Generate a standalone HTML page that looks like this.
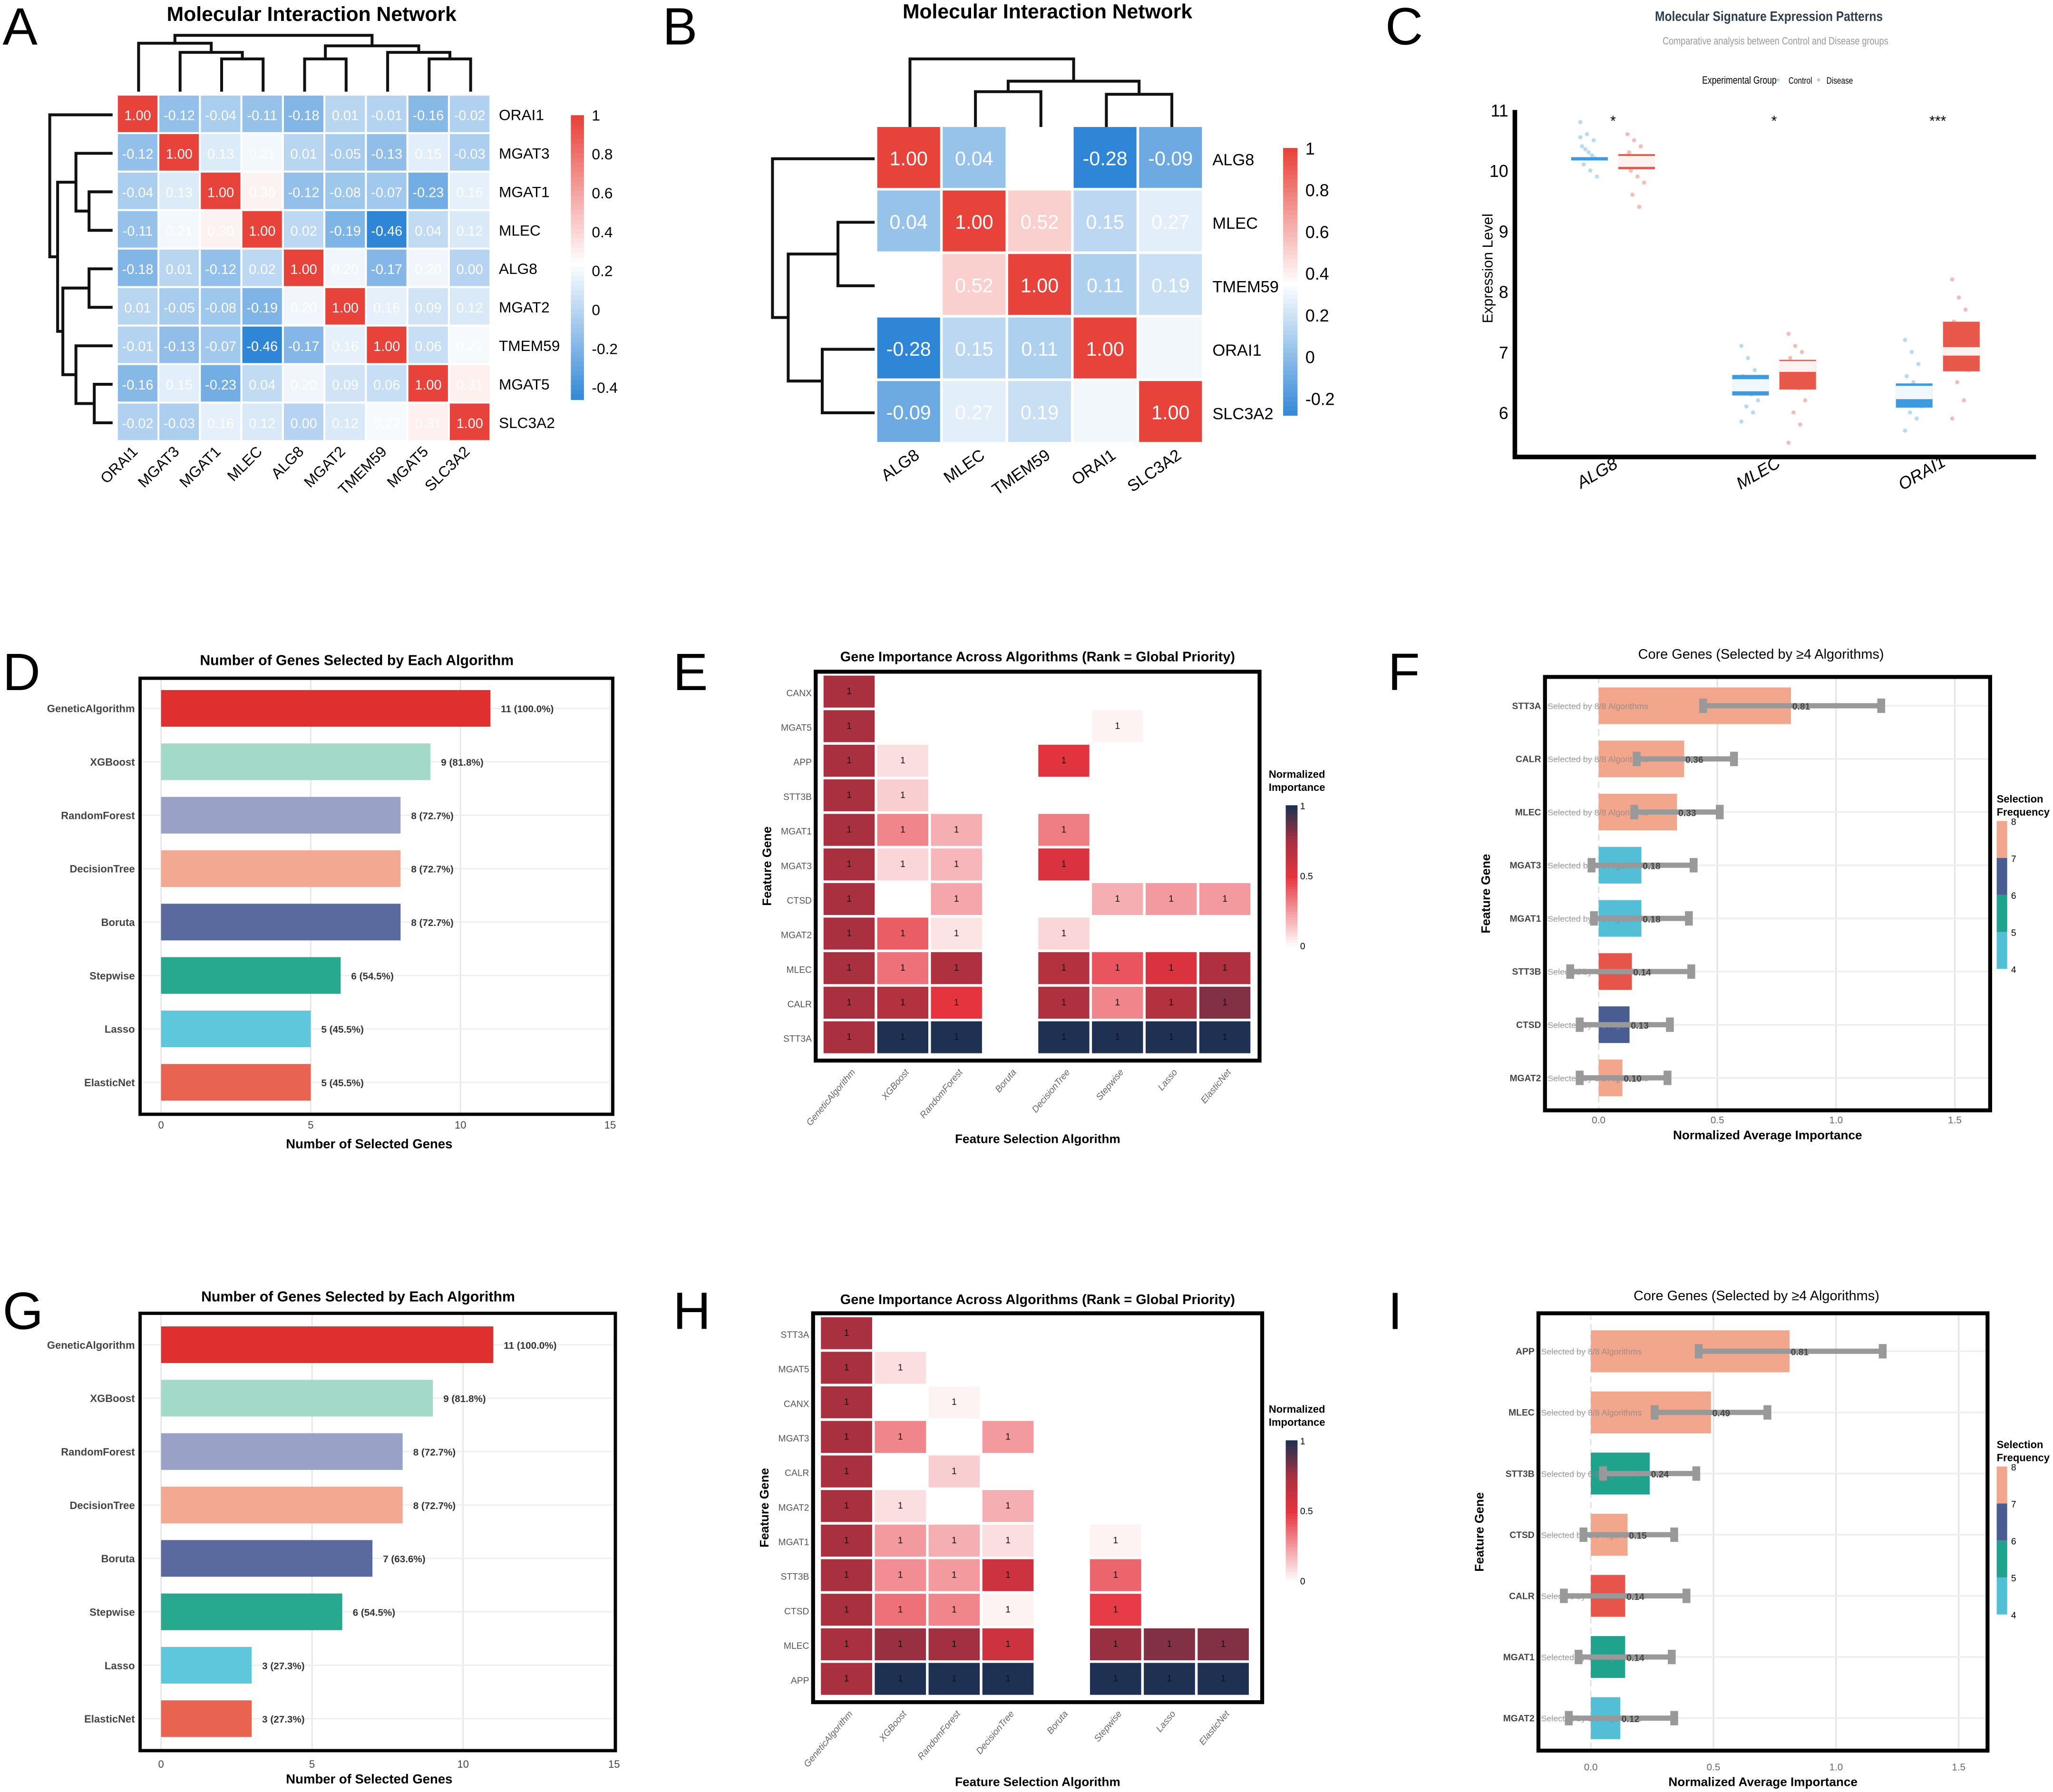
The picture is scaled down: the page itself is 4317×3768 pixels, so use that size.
<!DOCTYPE html>
<html><head><meta charset="utf-8"><style>
html,body{margin:0;padding:0;background:#fff;}
svg{display:block;font-family:"Liberation Sans",sans-serif;}
</style></head><body>
<svg id="fig" xmlns="http://www.w3.org/2000/svg" width="4317" height="3768" viewBox="0 0 1568 1368.6"></svg>
<script>
// ---------- data ----------
const genesA = ['ORAI1','MGAT3','MGAT1','MLEC','ALG8','MGAT2','TMEM59','MGAT5','SLC3A2'];
const corrA = [
 [1.00,-0.12,-0.04,-0.11,-0.18,0.01,-0.01,-0.16,-0.02],
 [-0.12,1.00,0.13,0.21,0.01,-0.05,-0.13,0.15,-0.03],
 [-0.04,0.13,1.00,0.30,-0.12,-0.08,-0.07,-0.23,0.16],
 [-0.11,0.21,0.30,1.00,0.02,-0.19,-0.46,0.04,0.12],
 [-0.18,0.01,-0.12,0.02,1.00,0.20,-0.17,0.20,-0.00],
 [0.01,-0.05,-0.08,-0.19,0.20,1.00,0.16,0.09,0.12],
 [-0.01,-0.13,-0.07,-0.46,-0.17,0.16,1.00,0.06,0.22],
 [-0.16,0.15,-0.23,0.04,0.20,0.09,0.06,1.00,0.31],
 [-0.02,-0.03,0.16,0.12,-0.00,0.12,0.22,0.31,1.00]];
const colTicksA = [1,0.8,0.6,0.4,0.2,0,-0.2,-0.4];
const genesB = ['ALG8','MLEC','TMEM59','ORAI1','SLC3A2'];
const corrB = [
 [1.00,0.04,0.36,-0.28,-0.09],
 [0.04,1.00,0.52,0.15,0.27],
 [0.36,0.52,1.00,0.11,0.19],
 [-0.28,0.15,0.11,1.00,0.32],
 [-0.09,0.27,0.19,0.32,1.00]];
const showB = [[1,1,0,1,1],[1,1,1,1,1],[0,1,1,1,1],[1,1,1,1,0],[1,1,1,0,1]];
const colTicksB = [1,0.8,0.6,0.4,0.2,0,-0.2];
// panel C
const genesC = ['ALG8','MLEC','ORAI1'];
const ctrlQ1 = [10.18,6.28,6.08], ctrlMed=[10.20,6.45,6.33], ctrlQ3=[10.22,6.62,6.48], ctrlGap=[0.01,0.10,0.11];
const disQ1 = [10.02,6.38,6.68], disMed=[10.15,6.76,7.01], disQ3=[10.27,6.87,7.50], disGap=[0.09,0.09,0.07];
const ctrlPts = [[10.8,10.6,10.5,10.4,10.3,10.2,10.1,10.0,9.9,10.35,10.25,10.55],
 [7.1,6.9,6.7,6.6,6.5,6.4,6.35,6.3,6.2,6.1,6.0,5.85],
 [7.2,7.0,6.8,6.6,6.5,6.4,6.3,6.2,6.1,6.0,5.9,5.7]];
const disPts = [[10.6,10.5,10.4,10.3,10.2,10.1,10.0,9.9,9.8,9.6,9.4,10.25],
 [7.3,7.1,7.0,6.9,6.8,6.6,6.5,6.4,6.2,6.0,5.8,5.5],
 [8.2,7.9,7.7,7.5,7.4,7.2,7.0,6.8,6.7,6.5,6.2,5.9]];
const sigC = ['*','*','***'];
const yTicksC = [6,7,8,9,10,11];
// panels D / G
const algs = ['GeneticAlgorithm','XGBoost','RandomForest','DecisionTree','Boruta','Stepwise','Lasso','ElasticNet'];
const countsD = [11,9,8,8,8,6,5,5];
const labelsD = ['11 (100.0%)','9 (81.8%)','8 (72.7%)','8 (72.7%)','8 (72.7%)','6 (54.5%)','5 (45.5%)','5 (45.5%)'];
const countsG = [11,9,8,8,7,6,3,3];
const labelsG = ['11 (100.0%)','9 (81.8%)','8 (72.7%)','8 (72.7%)','7 (63.6%)','6 (54.5%)','3 (27.3%)','3 (27.3%)'];
const barColors = ['#e02f2f','#a3d9c9','#9aa1c6','#f3a892','#5b6a9e','#27a98f','#5fc7db','#e86350'];
const xTicksDG = [0,5,10,15];
// panels E / H
const algsE = ['GeneticAlgorithm','XGBoost','RandomForest','Boruta','DecisionTree','Stepwise','Lasso','ElasticNet'];
const genesE = ['CANX','MGAT5','APP','STT3B','MGAT1','MGAT3','CTSD','MGAT2','MLEC','CALR','STT3A'];
const N = null;
const impE = [
 [0.75,N,N,N,N,N,N,N],
 [0.75,N,N,N,N,0.03,N,N],
 [0.75,0.08,N,N,0.52,N,N,N],
 [0.75,0.12,N,N,N,N,N,N],
 [0.75,0.3,0.2,N,0.32,N,N,N],
 [0.75,0.1,0.18,N,0.55,N,N,N],
 [0.75,N,0.22,N,N,0.2,0.25,0.25],
 [0.75,0.4,0.07,N,0.1,N,N,N],
 [0.75,0.35,0.72,N,0.7,0.42,0.55,0.72],
 [0.75,0.7,0.5,N,0.72,0.3,0.7,0.82],
 [0.75,1,1,N,1,1,1,1]];
const genesH = ['STT3A','MGAT5','CANX','MGAT3','CALR','MGAT2','MGAT1','STT3B','CTSD','MLEC','APP'];
const algsH = ['GeneticAlgorithm','XGBoost','RandomForest','DecisionTree','Boruta','Stepwise','Lasso','ElasticNet'];
const impH = [
 [0.75,N,N,N,N,N,N,N],
 [0.75,0.08,N,N,N,N,N,N],
 [0.75,N,0.03,N,N,N,N,N],
 [0.75,0.3,N,0.25,N,N,N,N],
 [0.75,N,0.12,N,N,N,N,N],
 [0.75,0.08,N,0.2,N,N,N,N],
 [0.75,0.25,0.2,0.08,N,0.03,N,N],
 [0.75,0.28,0.25,0.6,N,0.38,N,N],
 [0.75,0.35,0.3,0.03,N,0.48,N,N],
 [0.75,0.78,0.76,0.6,N,0.78,0.82,0.82],
 [0.75,1,1,1,N,1,1,1]];
// panels F / I
const genesF = ['STT3A','CALR','MLEC','MGAT3','MGAT1','STT3B','CTSD','MGAT2'];
const impF = [0.81,0.36,0.33,0.18,0.18,0.14,0.13,0.10];
const loF = [0.44,0.16,0.15,-0.03,-0.02,-0.12,-0.08,-0.08];
const hiF = [1.19,0.57,0.51,0.40,0.38,0.39,0.30,0.29];
const freqF = [8,8,8,5,5,4,7,8];
const genesI = ['APP','MLEC','STT3B','CTSD','CALR','MGAT1','MGAT2'];
const impI = [0.81,0.49,0.24,0.15,0.14,0.14,0.12];
const loI = [0.44,0.26,0.05,-0.03,-0.11,-0.05,-0.09];
const hiI = [1.19,0.72,0.43,0.34,0.39,0.33,0.34];
const freqI = [8,8,6,8,4,6,5];
const xTicksFI = [0,0.5,1,1.5];
const freqTicks = [8,7,6,5,4];

// ---------- helpers ----------
const svg = document.getElementById('fig');
const NS = 'http://www.w3.org/2000/svg';
function nm(e, n, i){
  
  
  return e;
}
function mk(tag, a, parent){
  const e = document.createElementNS(NS, tag);
  for (const k in a) e.setAttribute(k, a[k]);
  (parent || svg).appendChild(e);
  return e;
}
function txt(s, a, parent){ const e = mk('text', a, parent); e.textContent = s; return e; }
function grp(name){ const g = mk('g', {}); nm(g, name); return g; }
function hex(c){ return [parseInt(c.slice(1,3),16),parseInt(c.slice(3,5),16),parseInt(c.slice(5,7),16)]; }
function mix(c1,c2,t){ const a=hex(c1),b=hex(c2); return 'rgb('+a.map((v,i)=>Math.round(v+(b[i]-v)*t)).join(',')+')'; }
function divCol(v, lo, mid, hi){
  if (v >= mid) return mix('#ffffff','#e8433a',Math.min(1,(v-mid)/(hi-mid)));
  return mix('#ffffff','#2f86d6',Math.min(1,(mid-v)/(mid-lo)));
}
function impCol(v){
  if (v <= 0.5) return mix('#ffffff','#e6343f',v/0.5);
  if (v <= 0.75) return mix('#e6343f','#a8303f',(v-0.5)/0.25);
  return mix('#a8303f','#1f3152',(v-0.75)/0.25);
}
function freqCol(f){ return {8:'#f2a68c',7:'#4a5d93',6:'#1fa38c',5:'#52bfd6',4:'#e6544a'}[f]; }
function letter(s,x,y){ const t=txt(s,{x:x,y:y,'font-size':40,'font-family':'Liberation Sans, sans-serif'}); nm(t,'panel-label-'+s.toLowerCase()); }

// ---------- dendrogram ----------
function dendro(g, leafPos, merges, orient, base){
  const pos = leafPos.slice(); const ht = leafPos.map(()=>base);
  merges.forEach(m=>{
    const [a,b,h]=m;
    let d;
    if (orient==='top') d='M'+pos[a]+','+ht[a]+'V'+h+'H'+pos[b]+'V'+ht[b];
    else d='M'+ht[a]+','+pos[a]+'H'+h+'V'+pos[b]+'H'+ht[b];
    const p = mk('path',{d:d,fill:'none',stroke:'#111','stroke-width':2.2},g); nm(p,'dendrogram-branch');
    pos.push((pos[a]+pos[b])/2); ht.push(h);
  });
}

// ---------- Panel A ----------
(function(){
  letter('A',2,34);
  const g = grp('panel-a-correlation-heatmap');
  const x0=90,y0=73,cw=31.7,ch=29.4;
  const t=txt('Molecular Interaction Network',{x:238,y:16,'text-anchor':'middle','font-size':15.5,'font-weight':'bold'},g); nm(t,'chart-title');
  genesA.forEach((r,i)=>{
    genesA.forEach((c,j)=>{
      const v=corrA[i][j];
      const rc=mk('rect',{x:x0+j*cw,y:y0+i*ch,width:cw-1.5,height:ch-1.5,fill:divCol(v,-0.46,0.25,1)},g); nm(rc,'heatmap-cell');
      const tt=txt(v.toFixed(2),{x:x0+j*cw+cw/2-0.7,y:y0+i*ch+ch/2+4,'text-anchor':'middle','font-size':10.5,fill:'#fff'},g); nm(tt,'cell-value');
    });
    const rl=txt(r,{x:381,y:y0+i*ch+ch/2+4,'font-size':11.5},g); nm(rl,'row-label');
    const cx=x0+i*cw+cw/2, cy=y0+9*ch+8;
    const cl=txt(r,{x:cx,y:cy,'text-anchor':'end','font-size':11.5,transform:'rotate(-45 '+cx+' '+cy+')'},g); nm(cl,'column-label');
  });
  const cb=grp('colorbar-a');
  const top=88,bot=305,lo=-0.46,hi=1;
  for(let k=0;k<60;k++){const v=hi-(hi-lo)*k/60; const r=mk('rect',{x:436,y:top+(bot-top)*k/60,width:10,height:(bot-top)/60+0.5,fill:divCol(v,-0.46,0.25,1)},cb); nm(r,'colorbar-segment');}
  colTicksA.forEach(v=>{const y=top+(hi-v)/(hi-lo)*(bot-top); const l=txt(String(v),{x:452,y:y+4,'font-size':11.5},cb); nm(l,'colorbar-tick-label');});
  const dg=grp('dendrogram-top-a');
  const cxs=genesA.map((_,j)=>x0+j*cw+cw/2);
  dendro(dg,cxs,[[2,3,45],[1,9,40],[0,10,33],[4,5,45],[7,8,45],[6,13,40],[12,14,35],[11,15,27]],'top',70);
  const dl=grp('dendrogram-left-a');
  const rys=genesA.map((_,i)=>y0+i*ch+ch/2);
  dendro(dl,rys,[[2,3,68],[1,9,58],[4,5,68],[7,8,72],[6,12,58],[11,13,48],[10,14,44],[0,15,38]],'left',86);
})();

// ---------- Panel B ----------
(function(){
  letter('B',506,34);
  const g=grp('panel-b-correlation-heatmap');
  const t=txt('Molecular Interaction Network',{x:800,y:14,'text-anchor':'middle','font-size':15.5,'font-weight':'bold'},g); nm(t,'chart-title');
  const x0=670,y0=97,cw=50,ch=48.5;
  genesB.forEach((r,i)=>{
    genesB.forEach((c,j)=>{
      const v=corrB[i][j];
      const rc=mk('rect',{x:x0+j*cw,y:y0+i*ch,width:cw-2,height:ch-2,fill:divCol(v,-0.28,0.36,1)},g); nm(rc,'heatmap-cell');
      if(showB[i][j]){const tt=txt(v.toFixed(2),{x:x0+j*cw+cw/2-1,y:y0+i*ch+ch/2+5,'text-anchor':'middle','font-size':15,fill:'#fff'},g); nm(tt,'cell-value');}
    });
    const rl=txt(r,{x:926,y:y0+i*ch+ch/2+5,'font-size':12.5},g); nm(rl,'row-label');
    const cx=x0+i*cw+cw/2+8, cy=y0+5*ch+10;
    const cl=txt(r,{x:cx,y:cy,'text-anchor':'end','font-size':12.5,transform:'rotate(-35 '+cx+' '+cy+')'},g); nm(cl,'column-label');
  });
  const cb=grp('colorbar-b');
  const top=113,bot=317,lo=-0.28,hi=1;
  for(let k=0;k<60;k++){const v=hi-(hi-lo)*k/60; const r=mk('rect',{x:980,y:top+(bot-top)*k/60,width:11,height:(bot-top)/60+0.5,fill:divCol(v,-0.28,0.36,1)},cb); nm(r,'colorbar-segment');}
  colTicksB.forEach(v=>{const y=top+(hi-v)/(hi-lo)*(bot-top); const l=txt(String(v),{x:997,y:y+5,'font-size':13},cb); nm(l,'colorbar-tick-label');});
  const dg=grp('dendrogram-top-b');
  dendro(dg,genesB.map((_,j)=>x0+j*cw+cw/2),[[1,2,70],[3,4,72],[5,6,62],[0,7,45]],'top',97);
  const dl=grp('dendrogram-left-b');
  dendro(dl,genesB.map((_,i)=>y0+i*ch+ch/2),[[1,2,640],[3,4,628],[5,6,602],[0,7,590]],'left',668);
})();

// ---------- Panel C ----------
(function(){
  letter('C',1058,34);
  const g=grp('panel-c-expression-boxplot');
  let t=txt('Molecular Signature Expression Patterns',{x:1351,y:16,'text-anchor':'middle','font-size':10.5,'font-weight':'bold',fill:'#2c3e50',transform:'translate(1351 0) scale(0.85 1) translate(-1351 0)'},g); nm(t,'chart-title');
  t=txt('Comparative analysis between Control and Disease groups',{x:1356,y:34,'text-anchor':'middle','font-size':8,fill:'#999',transform:'translate(1356 0) scale(0.82 1) translate(-1356 0)'},g); nm(t,'chart-subtitle');
  const lg=grp('legend-c');
  t=txt('Experimental Group',{x:1300,y:64,'font-size':8,transform:'translate(1300 0) scale(0.8 1) translate(-1300 0)'},lg); nm(t,'legend-title');
  let c=mk('circle',{cx:1358,cy:61,r:1.2,fill:'#a8d4ef'},lg); nm(c,'legend-marker-control');
  t=txt('Control',{x:1366,y:64,'font-size':7,transform:'translate(1366 0) scale(0.8 1) translate(-1366 0)'},lg); nm(t,'legend-entry-control');
  c=mk('circle',{cx:1389,cy:61,r:1.2,fill:'#f4b4ad'},lg); nm(c,'legend-marker-disease');
  t=txt('Disease',{x:1395,y:64,'font-size':7,transform:'translate(1395 0) scale(0.8 1) translate(-1395 0)'},lg); nm(t,'legend-entry-disease');
  const y=v=>315-(v-6)*46.2;
  const centers=[1232,1355,1480];
  yTicksC.forEach(v=>{const l=txt(String(v),{x:1152,y:y(v)+5,'text-anchor':'end','font-size':13},g); nm(l,'y-tick-label');});
  genesC.forEach((gn,i)=>{
    const cx=centers[i];
    [[ctrlQ1,ctrlMed,ctrlQ3,ctrlGap,'#3d9ae0',-18,ctrlPts,'#b7dcf2'],[disQ1,disMed,disQ3,disGap,'#e8584a',18,disPts,'#f6bcb5']].forEach(s=>{
      const bx=cx+s[5];
      s[6][i].forEach((v,k)=>{const p=mk('circle',{cx:bx+((k*37)%11/11-0.5)*14,cy:y(v),r:1.6,fill:s[7]},g); nm(p,'data-point');});
      const q1=s[0][i],md=s[1][i],q3=s[2][i],gp=s[3][i];
      const b=mk('rect',{x:bx-14,y:y(q3),width:28,height:Math.max(2.5,y(q1)-y(q3)),fill:s[4]},g); nm(b,'box');
      if(gp>0.02){const w=mk('rect',{x:bx-14,y:y(md+gp),width:28,height:y(md-gp)-y(md+gp),fill:'#fff','fill-opacity':0.92},g); nm(w,'median-gap');}
    });
    const sg=txt(sigC[i],{x:cx,y:96,'text-anchor':'middle','font-size':11},g); nm(sg,'significance-marker');
    const lx=cx-10, ly=365;
    const xl=txt(gn,{x:lx,y:ly,'text-anchor':'middle','font-size':13,'font-style':'italic',transform:'rotate(-30 '+lx+' '+ly+')'},g); nm(xl,'x-tick-label');
  });
  const ax=mk('path',{d:'M1157,84V349H1555',fill:'none',stroke:'#000','stroke-width':3.5},g); nm(ax,'axes');
  const yl=txt('Expression Level',{x:1140,y:205,'text-anchor':'middle','font-size':11,transform:'rotate(-90 1140 205)'},g); nm(yl,'y-axis-title');
})();

// ---------- Panels D / G ----------
function barPanel(name, counts, labels, frame, x0, x15, yc, titleY, tickY, xlabY){
  const g=grp(name);
  const xs=v=>x0+(x15-x0)*v/15;
  const bg=mk('rect',{x:frame[0],y:frame[1],width:frame[2]-frame[0],height:frame[3]-frame[1],fill:'#fff'},g); nm(bg,'plot-background');
  xTicksDG.forEach(v=>{const l=mk('line',{x1:xs(v),x2:xs(v),y1:frame[1],y2:frame[3],stroke:'#e6e6e6','stroke-width':1},g); nm(l,'grid-line'); const tl=txt(String(v),{x:xs(v),y:tickY,'text-anchor':'middle','font-size':8,fill:'#444'},g); nm(tl,'x-tick-label');});
  algs.forEach((a,i)=>{
    const gl=mk('line',{x1:frame[0],x2:frame[2],y1:yc(i),y2:yc(i),stroke:'#eee','stroke-width':1},g); nm(gl,'grid-line');
    const b=mk('rect',{x:xs(0),y:yc(i)-14,width:xs(counts[i])-xs(0),height:28,fill:barColors[i]},g); nm(b,'bar-'+a.toLowerCase());
    const vl=txt(labels[i],{x:xs(counts[i])+8,y:yc(i)+3,'font-size':7.5,'font-weight':'bold',fill:'#333'},g); nm(vl,'bar-value-label');
    const yl=txt(a,{x:frame[0]-4,y:yc(i)+3,'text-anchor':'end','font-size':8,'font-weight':'bold',fill:'#444'},g); nm(yl,'y-tick-label');
  });
  const fr=mk('rect',{x:frame[0],y:frame[1],width:frame[2]-frame[0],height:frame[3]-frame[1],fill:'none',stroke:'#000','stroke-width':2.5},g); nm(fr,'plot-frame');
  const t=txt('Number of Genes Selected by Each Algorithm',{x:(frame[0]+frame[2])/2-15,y:titleY,'text-anchor':'middle','font-size':11,'font-weight':'bold'},g); nm(t,'chart-title');
  const xl=txt('Number of Selected Genes',{x:282,y:xlabY,'text-anchor':'middle','font-size':10,'font-weight':'bold'},g); nm(xl,'x-axis-title');
}
letter('D',2,527);
barPanel('panel-d-bar-chart',countsD,labelsD,[107,518,468,851],123,466,i=>541+i*40.8,508,862,877);
letter('G',2,1015);
barPanel('panel-g-bar-chart',countsG,labelsG,[107,1003,470,1337],123,469,i=>1027+i*40.8,994,1350,1362);

// ---------- Panels E / H ----------
function heatPanel(name, genes, al, imp, frame, cx0, cw, cy0, rh, titleY, xlabY, cbTop){
  const g=grp(name);
  genes.forEach((gn,i)=>{
    al.forEach((a,j)=>{
      const v=imp[i][j]; if(v===null) return;
      const r=mk('rect',{x:cx0+j*cw,y:cy0+i*rh,width:cw-2,height:rh-2,fill:impCol(v)},g); nm(r,'heatmap-cell');
      const tt=txt('1',{x:cx0+j*cw+cw/2-1,y:cy0+i*rh+rh/2+1,'text-anchor':'middle','font-size':7,fill:'#111'},g); nm(tt,'cell-value');
    });
    const yl=txt(gn,{x:frame[0]-3,y:cy0+i*rh+rh/2+2.5,'text-anchor':'end','font-size':7,fill:'#555'},g); nm(yl,'y-tick-label');
  });
  al.forEach((a,j)=>{const x=cx0+j*cw+cw/2+4, y=frame[3]+9; const l=txt(a,{x:x,y:y,'text-anchor':'end','font-size':7,'font-style':'italic',fill:'#666',transform:'rotate(-50 '+x+' '+y+')'},g); nm(l,'x-tick-label');});
  const fr=mk('rect',{x:frame[0],y:frame[1],width:frame[2]-frame[0],height:frame[3]-frame[1],fill:'none',stroke:'#000','stroke-width':3},g); nm(fr,'plot-frame');
  const t=txt('Gene Importance Across Algorithms (Rank = Global Priority)',{x:(frame[0]+frame[2])/2,y:titleY,'text-anchor':'middle','font-size':10.5,'font-weight':'bold'},g); nm(t,'chart-title');
  const xl=txt('Feature Selection Algorithm',{x:(frame[0]+frame[2])/2,y:xlabY,'text-anchor':'middle','font-size':9.5,'font-weight':'bold'},g); nm(xl,'x-axis-title');
  const yx=frame[0]-34, yy=(frame[1]+frame[3])/2;
  const ya=txt('Feature Gene',{x:yx,y:yy,'text-anchor':'middle','font-size':9.5,'font-weight':'bold',transform:'rotate(-90 '+yx+' '+yy+')'},g); nm(ya,'y-axis-title');
  const cb=grp(name+'-colorbar');
  let tl=txt('Normalized',{x:969,y:cbTop-21,'font-size':8,'font-weight':'bold'},cb); nm(tl,'colorbar-title');
  tl=txt('Importance',{x:969,y:cbTop-11,'font-size':8,'font-weight':'bold'},cb); nm(tl,'colorbar-title');
  const h=107;
  for(let k=0;k<50;k++){const v=1-k/50; const r=mk('rect',{x:982,y:cbTop+h*k/50,width:9,height:h/50+0.4,fill:impCol(v)},cb); nm(r,'colorbar-segment');}
  [[1,0],[0.5,0.5],[0,1]].forEach(p=>{const l=txt(String(p[0]),{x:993,y:cbTop+h*p[1]+3,'font-size':7},cb); nm(l,'colorbar-tick-label');});
}
letter('E',514,527);
heatPanel('panel-e-importance-heatmap',genesE,algsE,impE,[623,513,962,810],629,41,516,26.4,505,873,615);
letter('H',514,1015);
heatPanel('panel-h-importance-heatmap',genesH,algsH,impH,[621,1003,964,1300],627,41.1,1006,26.4,996,1364,1100);

// ---------- Panels F / I ----------
function corePanel(name, genes, imp, lo, hi, freq, frame, x0, x15, yc, bh, titleY, tickY, xlabY, cbTop){
  const g=grp(name);
  const xs=v=>x0+(x15-x0)*v/1.5;
  xTicksFI.forEach(v=>{const l=mk('line',{x1:xs(v),x2:xs(v),y1:frame[1],y2:frame[3],stroke:'#e4e4e4','stroke-width':1.2,'stroke-dasharray':v===0?'5,3':''},g); nm(l,'grid-line'); const tl=txt(v.toFixed(1),{x:xs(v),y:tickY,'text-anchor':'middle','font-size':7.5,fill:'#666'},g); nm(tl,'x-tick-label');});
  genes.forEach((gn,i)=>{
    const y=yc(i);
    const gl=mk('line',{x1:frame[0],x2:frame[2],y1:y,y2:y,stroke:'#eee','stroke-width':1.2},g); nm(gl,'grid-line');
    const b=mk('rect',{x:xs(0),y:y-bh/2,width:xs(imp[i])-xs(0),height:bh,fill:freqCol(freq[i])},g); nm(b,'bar-'+gn.toLowerCase());
    const st=txt('Selected by '+freq[i]+'/8 Algorithms',{x:frame[0]+2,y:y+2.5,'font-size':6.5,fill:'#888','fill-opacity':0.85},g); nm(st,'selection-annotation');
    const e=mk('line',{x1:xs(lo[i]),x2:xs(hi[i]),y1:y,y2:y,stroke:'#999','stroke-width':4},g); nm(e,'error-bar');
    [lo[i],hi[i]].forEach(v=>{const c=mk('rect',{x:xs(v)-3,y:y-5.5,width:6,height:11,fill:'#999'},g); nm(c,'error-bar-cap');});
    const vl=txt(imp[i].toFixed(2),{x:xs(imp[i])+1,y:y+3,'font-size':7,'font-weight':'bold',fill:'#444'},g); nm(vl,'bar-value-label');
    const wb=mk('rect',{x:frame[0]-45,y:y-6,width:45,height:12,fill:'#fff'},g); nm(wb,'label-background');
    const yl=txt(gn,{x:frame[0]-3,y:y+2.5,'text-anchor':'end','font-size':7,'font-weight':'bold',fill:'#444'},g); nm(yl,'y-tick-label');
  });
  const fr=mk('rect',{x:frame[0],y:frame[1],width:frame[2]-frame[0],height:frame[3]-frame[1],fill:'none',stroke:'#000','stroke-width':3},g); nm(fr,'plot-frame');
  const t=txt('Core Genes (Selected by \u22654 Algorithms)',{x:(frame[0]+frame[2])/2-5,y:titleY,'text-anchor':'middle','font-size':10.5},g); nm(t,'chart-title');
  const xl=txt('Normalized Average Importance',{x:(frame[0]+frame[2])/2,y:xlabY,'text-anchor':'middle','font-size':9.5,'font-weight':'bold'},g); nm(xl,'x-axis-title');
  const yx=frame[0]-42, yy=(frame[1]+frame[3])/2;
  const ya=txt('Feature Gene',{x:yx,y:yy,'text-anchor':'middle','font-size':9.5,'font-weight':'bold',transform:'rotate(-90 '+yx+' '+yy+')'},g); nm(ya,'y-axis-title');
  const cb=grp(name+'-colorbar');
  let tl=txt('Selection',{x:1525,y:cbTop-14,'font-size':8,'font-weight':'bold'},cb); nm(tl,'colorbar-title');
  tl=txt('Frequency',{x:1525,y:cbTop-4,'font-size':8,'font-weight':'bold'},cb); nm(tl,'colorbar-title');
  const h=113;
  freqTicks.forEach((f,k)=>{
    if(k<4){const r=mk('rect',{x:1525,y:cbTop+h*k/4,width:8,height:h/4,fill:freqCol(f)},cb); nm(r,'colorbar-segment');}
    const l=txt(String(f),{x:1536,y:cbTop+h*k/4+3,'font-size':7},cb); nm(l,'colorbar-tick-label');
  });
}
letter('F',1060,527);
corePanel('panel-f-core-genes',genesF,impF,loF,hiF,freqF,[1180,517,1520,848],1221,1493,i=>539+i*40.6,28,503,858,870,627);
letter('I',1060,1015);
corePanel('panel-i-core-genes',genesI,impI,loI,hiI,freqI,[1175,1003,1518,1337],1215,1496,i=>1032+i*46.7,32,993,1352,1364,1120);
</script>
</body></html>
